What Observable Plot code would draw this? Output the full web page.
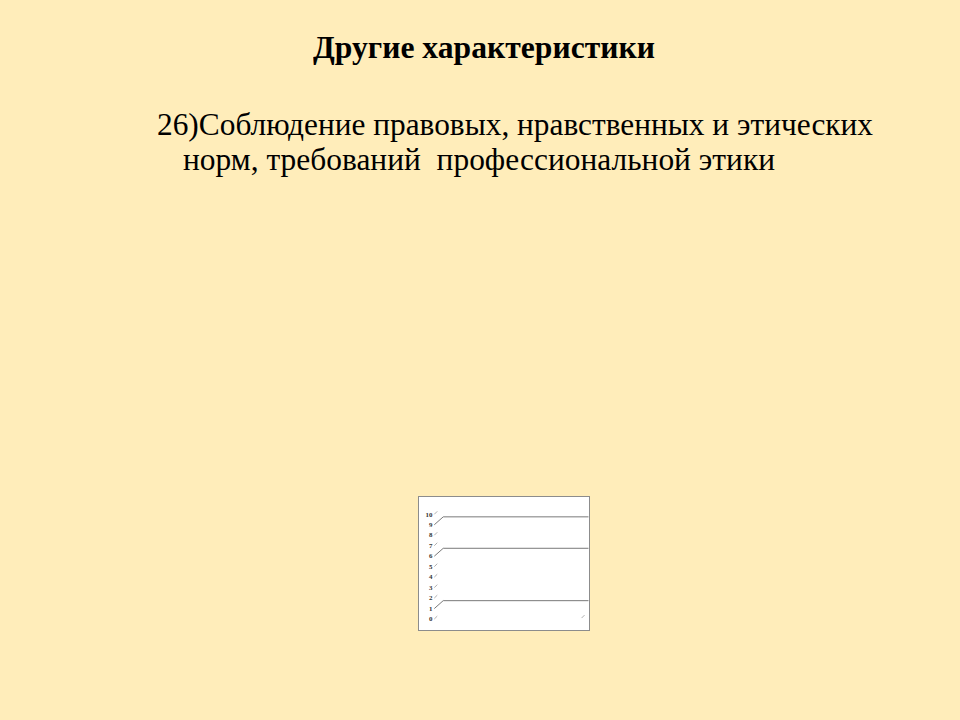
<!DOCTYPE html>
<html>
<head>
<meta charset="utf-8">
<script src="https://cdn.jsdelivr.net/npm/d3@7"></script>
<script src="https://cdn.jsdelivr.net/npm/@observablehq/plot@0.6"></script>
<style>
  html, body { margin: 0; padding: 0; }
  body { width: 960px; height: 720px; background: #FFEDBA; position: relative; overflow: hidden; color: #000; }
  .t { position: absolute; white-space: pre; line-height: 1; transform-origin: 0 0; font-family: "Liberation Serif", "DejaVu Serif", serif; }
  #title { font-weight: bold; font-size: 31px; }
  .txt { font-size: 32px; font-weight: normal; }
  #chart { position: absolute; left: 418px; top: 496px; width: 172px; height: 135px; background: #fff; box-sizing: border-box; border: 1px solid #8c8c8c; }
  #chart svg { position: absolute; left: -1px; top: -1px; }
</style>
</head>
<body>
<div id="title" class="t" data-left="313" data-width="342" style="top:32px">Другие характеристики</div>
<div id="l1" class="t txt" data-left="157" data-width="716" style="top:108px">26)Соблюдение правовых, нравственных и этических</div>
<div id="l2" class="t txt" data-left="183" data-width="592" style="top:143px">норм, требований  профессиональной этики</div>
<div id="chart"></div>
<script>
// Data
const yTicks = [0, 1, 2, 3, 4, 5, 6, 7, 8, 9, 10];
const gridValues = [1, 6, 9];

// Fit text widths
for (const id of ["title", "l1", "l2"]) {
  const el = document.getElementById(id);
  const w = el.getBoundingClientRect().width;
  el.style.left = el.dataset.left + "px";
  el.style.transform = `scaleX(${(+el.dataset.width) / w})`;
}

const W = 172, H = 135;
const y0px = 124, y10px = 18;
const pxPerUnit = (y0px - y10px) / 10;
const depthY = 8 / pxPerUnit;   // back-wall offset in data units
const tickY = 3 / pxPerUnit;

const plot = Plot.plot({
  width: W,
  height: H,
  marginLeft: 16,
  marginRight: 0,
  marginTop: y10px,
  marginBottom: H - y0px,
  style: { background: "transparent", overflow: "visible" },
  x: { domain: [0, 156], axis: null },
  y: { domain: [0, 10], axis: null },
  marks: [
    Plot.text(yTicks, {
      x: 0, y: d => d, text: d => String(d), textAnchor: "end", dx: -2,
      fontSize: 7, fontWeight: "bold", fontFamily: "Liberation Serif", fill: "#333"
    }),
    Plot.link(yTicks.filter(d => !gridValues.includes(d)), {
      x1: 0, x2: 3, y1: d => d, y2: d => d + tickY, stroke: "#999", strokeWidth: 0.8
    }),
    Plot.link(gridValues, {
      x1: 0, x2: 9, y1: d => d, y2: d => d + depthY, stroke: "#777", strokeWidth: 1
    }),
    Plot.link(gridValues, {
      x1: 9, x2: 156, y1: d => d + depthY, y2: d => d + depthY, stroke: "#777", strokeWidth: 1
    }),
    Plot.link([0], {
      x1: 149, x2: 152, y1: d => d + tickY / 3, y2: d => d + tickY / 3 + tickY, stroke: "#999", strokeWidth: 0.8
    })
  ]
});
document.getElementById("chart").appendChild(plot);
</script>
</body>
</html>
